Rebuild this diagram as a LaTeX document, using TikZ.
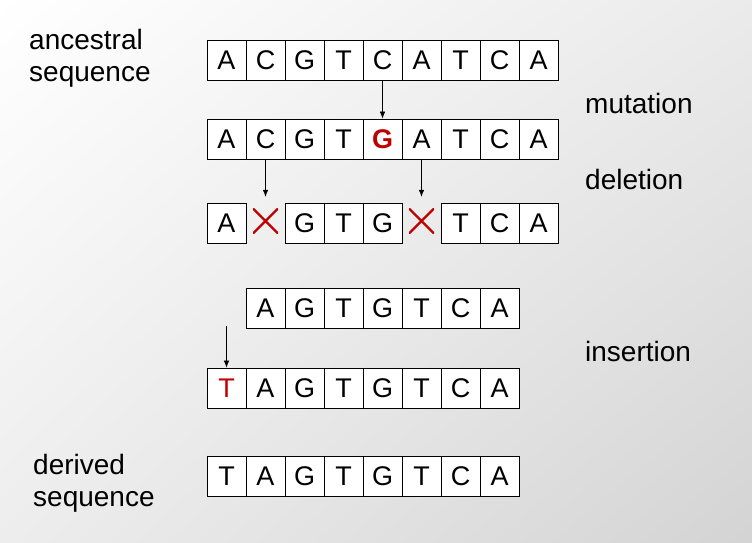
\documentclass[tikz,border=0pt]{standalone}
\usepackage{fontspec}
\setmainfont{Liberation Sans}
\usetikzlibrary{arrows.meta, shadings}
\definecolor{mutred}{RGB}{192,0,0}

\begin{document}
\begin{tikzpicture}[x=1pt, y=-1pt,
  base/.style={draw, fill=white, line width=0.8pt, minimum width=39pt,
    minimum height=40pt, inner sep=0pt, font=\fontsize{27}{27}\selectfont},
  lab/.style={anchor=north west, align=left, inner sep=0pt,
    font=\fontsize{28}{32}\selectfont},
  word/.style={anchor=base west, inner sep=0pt, font=\fontsize{28}{32}\selectfont},
  gone/.style={minimum size=25pt, inner sep=0pt, path picture={
    \draw[mutred, line width=2.2pt]
      (path picture bounding box.north west) -- (path picture bounding box.south east)
      (path picture bounding box.north east) -- (path picture bounding box.south west);}},
  arr/.style={-{Latex[length=7pt,width=5.5pt]}, line width=0.6pt}]
  \shade[upper left=white, upper right=black!8, lower left=black!7,
    lower right=black!17] (0,0) rectangle (752,542);

  % ancestral row
  \foreach \ch [count=\i] in {A,C,G,T,C,A,T,C,A}
    \node[base] (a\i) at (187.5+39*\i, 60) {\ch};
  % after mutation
  \foreach \ch [count=\i] in {A,C,G,T,{\textbf{\color{mutred}G}},A,T,C,A}
    \node[base] (b\i) at (187.5+39*\i, 139) {\ch};
  % deletion
  \foreach \i/\ch in {1/A,3/G,4/T,5/G,7/T,8/C,9/A}
    \node[base] (c\i) at (187.5+39*\i, 223) {\ch};
  \node[gone] (x2) at (265.5, 221) {};
  \node[gone] (x6) at (421.5, 221) {};
  % before and after insertion
  \foreach \ch [count=\i from 2] in {A,G,T,G,T,C,A}
    \node[base] (d\i) at (187.5+39*\i, 308) {\ch};
  \foreach \ch [count=\i] in {{\color{mutred}T},A,G,T,G,T,C,A}
    \node[base] (e\i) at (187.5+39*\i, 388) {\ch};
  % derived row
  \foreach \ch [count=\i] in {T,A,G,T,G,T,C,A}
    \node[base] (f\i) at (187.5+39*\i, 476) {\ch};

  \draw[arr] (a5.south) -- (b5.north);
  \draw[arr, shorten >=11.5pt] (b2.south) -- (x2.north);
  \draw[arr, shorten >=11.5pt] (b6.south) -- (x6.north);
  \coordinate (ins) at (226.5, 326);
  \draw[arr] (ins) -- (e1.north);

  \node[lab] (anc) at (29, 29) {ancestral\\sequence};
  \node[lab] (der) at (33, 454) {derived\\sequence};
  \node[word] (mut) at (585, 113) {mutation};
  \node[word] (del) at (585, 189) {deletion};
  \node[word] (ins-l) at (585, 361) {insertion};
\end{tikzpicture}
\end{document}
